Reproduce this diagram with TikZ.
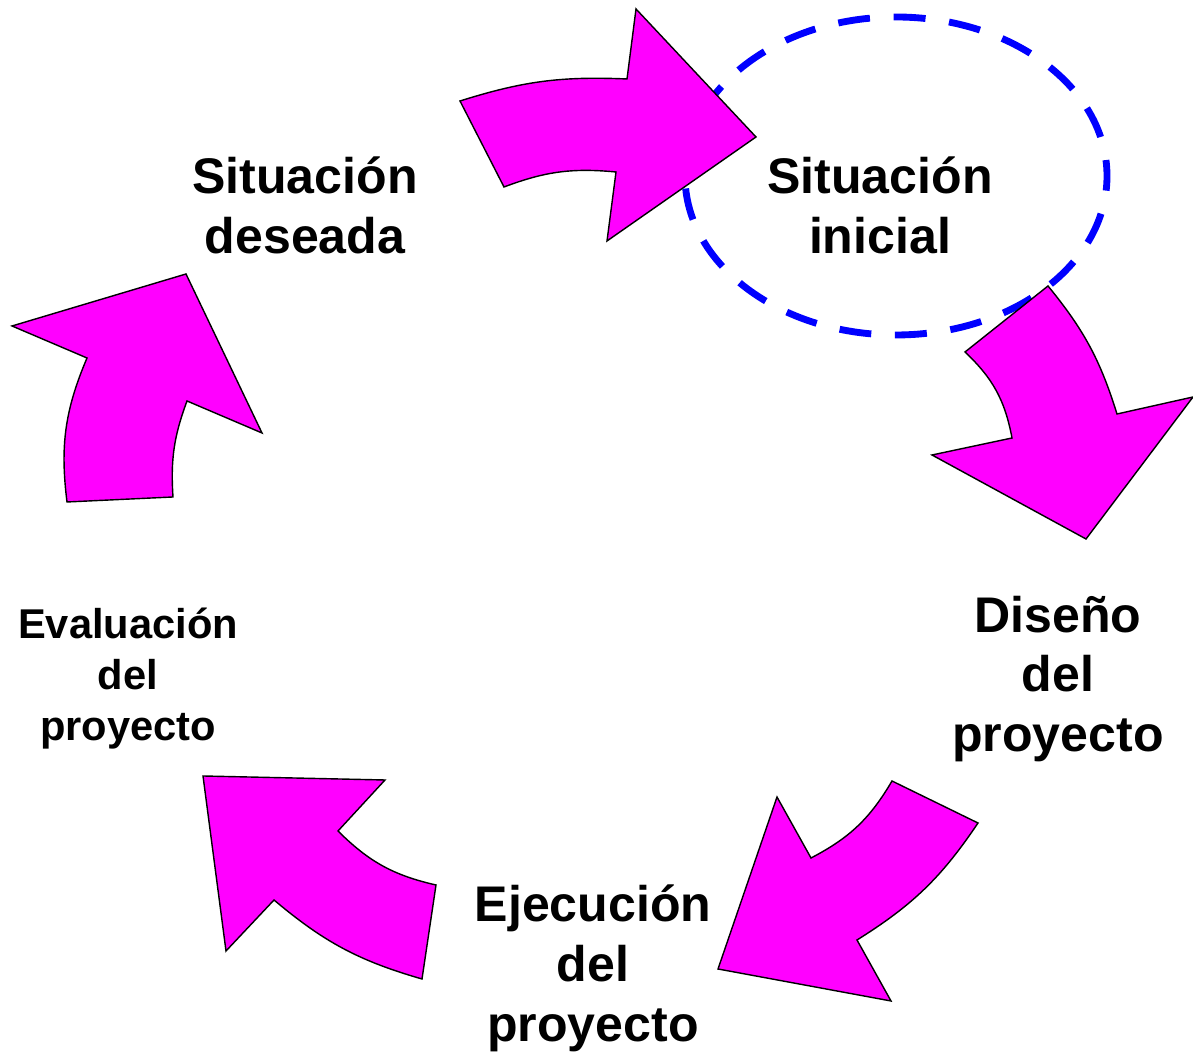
\documentclass[tikz,border=0pt]{standalone}
\usepackage{fontspec}
\setmainfont{Liberation Sans}
\usepackage{tikz}
\usetikzlibrary{shapes,calc}
\definecolor{fuchsia}{RGB}{255,0,255}

\begin{document}
\begin{tikzpicture} [x=0.02cm, y=0.02cm,
				stage/.style={
				% The text:
				align=center,
				font=\fontsize{28.5}{34.1}\selectfont\bfseries
				},
				smallstage/.style={
				% The text:
				align=center,
				font=\fontsize{23.7}{29}\selectfont\bfseries
				},
				bigarrow/.style={
				% The border:
				draw=black, line width=0.8pt, line join=miter,
				% The filling:
				fill=fuchsia
				},
				ring/.style={
				% The border:
				draw=blue, line width=3.9pt,
				dash pattern=on 18.2pt off 13.5pt, dash phase=9.1pt
				},
				]
    \useasboundingbox (0,0) rectangle (1193,1053);
    % the dashed ring round the starting point
    \draw [ring] (896,877) ellipse [x radius=211, y radius=159];
    % the five arrows of the cycle
    \draw [bigarrow] (460,952) to[bend left=10] (627,974) -- (636,1044) -- (756,916)
        -- (607,812) -- (616,881) to[bend right=13] (504,866) -- cycle;
    \draw [bigarrow] (1048,767) to[bend left=11] (1117,639) -- (1193,656) -- (1086,514)
        -- (932,598) -- (1012,615) to[bend right=18] (965,701) -- cycle;
    \draw [bigarrow] (978,230) to[bend left=12] (857,113) -- (891,52) -- (718,84)
        -- (777,256) -- (811,195) to[bend right=16] (892,272) -- cycle;
    \draw [bigarrow] (422,74) to[bend left=12] (274,153) -- (226,102) -- (203,277)
        -- (385,273) -- (338,222) to[bend right=16] (436,168) -- cycle;
    \draw [bigarrow] (67,551) to[bend left=15] (87,695) -- (12,727) -- (186,779)
        -- (262,620) -- (187,652) to[bend right=12] (173,556) -- cycle;
    % the stages
    \node [stage] (sitdes) at (305,848) {Situación\\deseada};
    \node [stage] (sitini) at (880,848) {Situación\\inicial};
    \node [stage] (diseno) at (1058,374) {Diseño\\del\\proyecto};
    \node [stage] (ejec) at (593,85) {Ejecución\\del\\proyecto};
    \node [smallstage] (eval) at (128,374) {Evaluación\\del\\proyecto};
\end{tikzpicture}
\end{document}
